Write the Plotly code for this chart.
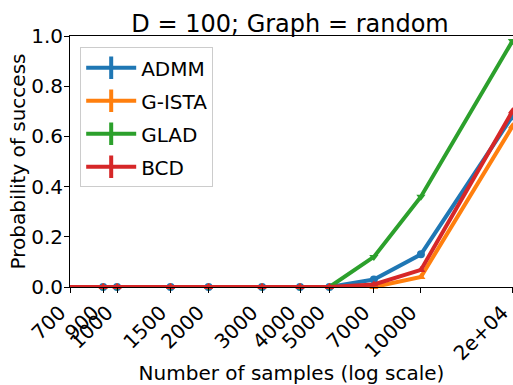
import numpy as np
import plotly.graph_objects as go

# Sample sizes (x axis, log scale) and tick labels
samples = [700, 900, 1000, 1500, 2000, 3000, 4000, 5000, 7000, 10000, 20000]
tick_labels = ["700", "900", "1000", "1500", "2000", "3000", "4000", "5000",
               "7000", "10000", "2e+04"]

# Probability of success per method
admm = [0, 0, 0, 0, 0, 0, 0, 0, 0.03, 0.13, 0.68]
gista = [0, 0, 0, 0, 0, 0, 0, 0, 0.0, 0.04, 0.64]
glad = [0, 0, 0, 0, 0, 0, 0, 0, 0.12, 0.36, 0.98]
bcd = [0, 0, 0, 0, 0, 0, 0, 0, 0.01, 0.068, 0.70]

methods = ["ADMM", "G-ISTA", "GLAD", "BCD"]
series = [admm, gista, glad, bcd]
colors = ["#1f77b4", "#ff7f0e", "#2ca02c", "#d62728"]
symbols = ["circle", "triangle-up", "triangle-down", "triangle-up"]

FONT = "DejaVu Sans"

fig = go.Figure()

for name, ys, col, sym in zip(methods, series, colors, symbols):
    fig.add_trace(go.Scatter(
        x=samples, y=ys, mode="lines+markers", name=name,
        line=dict(color=col, width=4),
        marker=dict(symbol=sym, size=8, color=col),
        showlegend=False, cliponaxis=False,
    ))

# Legend entries drawn as a line with a vertical bar
for i, (name, col) in enumerate(zip(methods, colors)):
    fig.add_trace(go.Scatter(
        x=[None], y=[None], mode="lines+markers", name=name,
        line=dict(color=col, width=4),
        marker=dict(symbol="line-ns", size=18, color=col,
                    line=dict(color=col, width=4)),
        legendgroup=f"g{i}",
    ))

fig.update_layout(
    width=513, height=385,
    margin=dict(l=70, r=0, t=36, b=98, autoexpand=False),
    paper_bgcolor="white", plot_bgcolor="white",
    font=dict(family=FONT, size=20, color="black"),
    title=dict(text="D = 100; Graph = random", x=290 / 513, xanchor="center",
               y=1 - 24 / 385, yanchor="middle", yref="container",
               font=dict(size=24, family=FONT, color="black")),
    legend=dict(x=0.023, y=0.955, xanchor="left", yanchor="top",
                bgcolor="white", bordercolor="#cccccc", borderwidth=1,
                font=dict(size=20, family=FONT), tracegroupgap=4,
                itemwidth=50),
    showlegend=True,
)

fig.update_xaxes(
    type="log", range=[np.log10(700), np.log10(20000) + 0.002],
    tickvals=samples, ticktext=tick_labels, tickangle=-45,
    ticks="outside", ticklen=5, tickcolor="black",
    showline=True, linecolor="black", linewidth=1, mirror=True,
    showgrid=False, zeroline=False, ticklabeloverflow="allow",
    ticklabelshift=-10, automargin=False,
    title=dict(text="Number of samples (log scale)", standoff=6,
               font=dict(size=20, family=FONT)),
    tickfont=dict(size=20, family=FONT),
)

fig.update_yaxes(
    range=[0, 1], tickvals=[0, 0.2, 0.4, 0.6, 0.8, 1.0],
    ticktext=["0.0", "0.2", "0.4", "0.6", "0.8", "1.0"],
    ticks="outside", ticklen=5, tickcolor="black",
    showline=True, linecolor="black", linewidth=1, mirror=True,
    showgrid=False, zeroline=False, ticklabelstandoff=-3,
    automargin=False,
    title=dict(text="Probability of success", standoff=0,
               font=dict(size=20, family=FONT)),
    tickfont=dict(size=20, family=FONT),
)

fig.write_html("out.html")
